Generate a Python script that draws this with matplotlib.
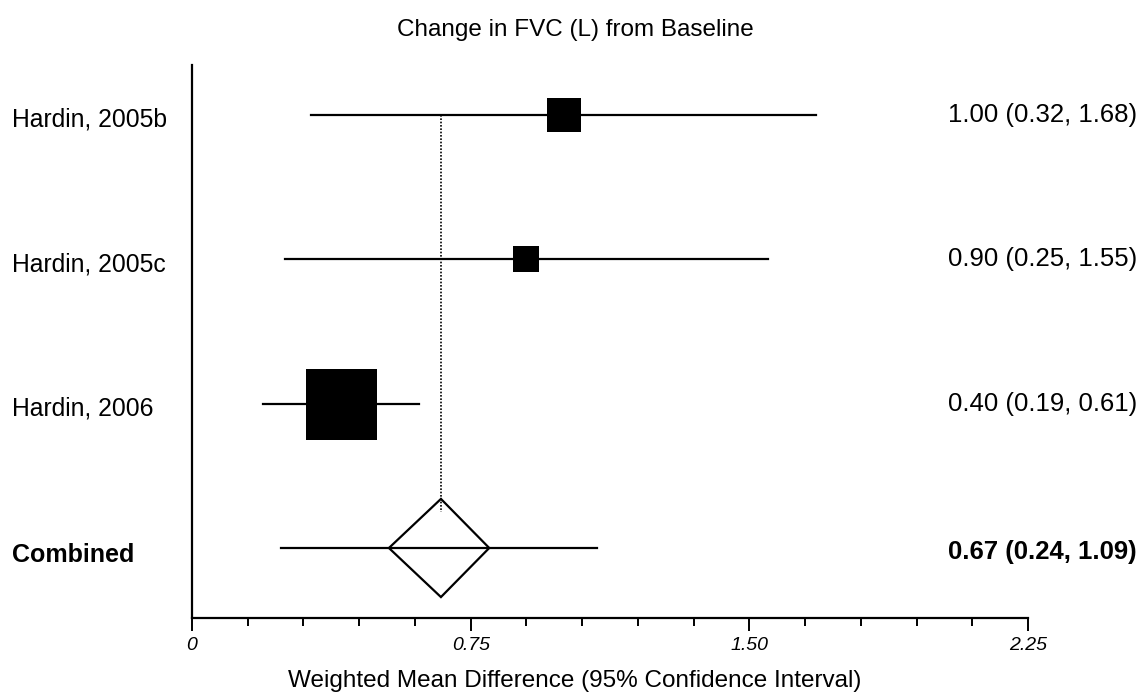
import numpy as np
import matplotlib.pyplot as plt
from matplotlib.ticker import MultipleLocator
from matplotlib.patches import Polygon

plt.rcParams['font.family'] = ['Liberation Sans', 'DejaVu Sans']

# per-study estimates (weighted mean difference, L)
studies = ["Hardin, 2005b", "Hardin, 2005c", "Hardin, 2006"]
est = [1.00, 0.90, 0.40]
lo = [0.32, 0.25, 0.19]
hi = [1.68, 1.55, 0.61]
weights = [34, 26, 71]  # box side, proportional to study weight

# pooled result
pooled_label = "Combined"
pooled_est = 0.67
pooled_lo = 0.24
pooled_hi = 1.09
diamond_lo = 0.53
diamond_hi = 0.80

xticks = [0, 0.75, 1.50, 2.25]
xtick_labels = ["0", "0.75", "1.50", "2.25"]

fig = plt.figure(figsize=(11.43, 6.98), dpi=100)
ax = fig.add_axes([192 / 1143, 1 - 618 / 698, (1028 - 192) / 1143, (618 - 65) / 698])

ypos = [4, 3, 2]
y_pool = 1

# dotted reference line at pooled estimate
ax.plot([pooled_est, pooled_est], [ypos[0], y_pool + 0.25], color='black',
        linestyle=(0, (1, 1)), linewidth=1.2, zorder=1)

for y, e, l, h, w in zip(ypos, est, lo, hi, weights):
    ax.plot([l, h], [y, y], color='black', linewidth=1.6, zorder=2)
    ax.plot(e, y, marker='s', markersize=w * 0.72, color='black',
            markeredgewidth=0, zorder=3)

ax.plot([pooled_lo, pooled_hi], [y_pool, y_pool], color='black', linewidth=1.6, zorder=2)
diamond = Polygon([[diamond_lo, y_pool], [pooled_est, y_pool + 0.34],
                   [diamond_hi, y_pool], [pooled_est, y_pool - 0.34]],
                  closed=True, facecolor='none', edgecolor='black', linewidth=1.6, zorder=3)
ax.add_patch(diamond)

ax.set_xlim(0, 2.25)
ax.set_ylim(0.515, 4.346)
ax.spines['top'].set_visible(False)
ax.spines['right'].set_visible(False)
ax.spines['left'].set_linewidth(1.6)
ax.spines['bottom'].set_linewidth(1.6)
ax.set_yticks([])
ax.set_xticks(xticks)
ax.set_xticklabels(xtick_labels, fontstyle='italic', fontsize=14)
ax.xaxis.set_minor_locator(MultipleLocator(0.15))
ax.tick_params(axis='x', which='major', length=9, width=1.4, direction='out', pad=5)
ax.tick_params(axis='x', which='minor', length=6, width=1.4, direction='out')

# row labels and values
def fig_y(y, dpx=0):
    return (ax.transData.transform((0, y))[1] - dpx) / fig.bbox.height

for y, name, e, l, h in zip(ypos, studies, est, lo, hi):
    fig.text(12 / 1143, fig_y(y, 5), name, ha='left', va='center', fontsize=17.8)
    fig.text(1137 / 1143, fig_y(y, 0), f"{e:.2f} ({l:.2f}, {h:.2f})",
             ha='right', va='center', fontsize=18.5)

fig.text(12 / 1143, fig_y(y_pool, 7), pooled_label, ha='left', va='center',
         fontsize=18, fontweight='bold')
fig.text(1137 / 1143, fig_y(y_pool, 4), f"{pooled_est:.2f} ({pooled_lo:.2f}, {pooled_hi:.2f})",
         ha='right', va='center', fontsize=18.5, fontweight='bold')

fig.text(575 / 1143, 1 - 30 / 698, "Change in FVC (L) from Baseline",
         ha='center', va='center', fontsize=17.5)
fig.text(575 / 1143, 1 - 681 / 698, "Weighted Mean Difference (95% Confidence Interval)",
         ha='center', va='center', fontsize=17.5)

fig.savefig("out.png", dpi=100)
